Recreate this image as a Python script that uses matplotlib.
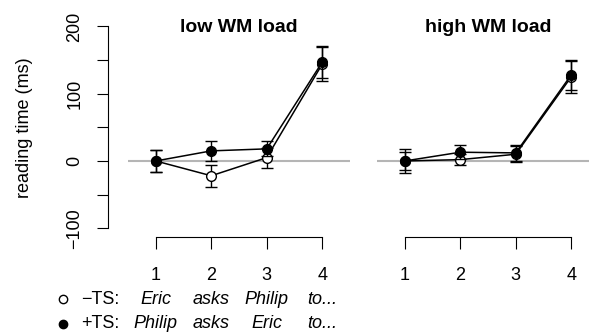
import matplotlib
matplotlib.use('Agg')
import matplotlib.pyplot as plt
import matplotlib.transforms as mtransforms
from matplotlib.lines import Line2D

plt.rcParams['font.family'] = ['Liberation Sans', 'DejaVu Sans']

positions = [1, 2, 3, 4]
panels = ['low WM load', 'high WM load']

# mean reading time (ms) and error bar half-widths
low_minus = [0, -22, 5, 144]
low_minus_err = [17, 16, 15, 25]
low_plus = [0, 15, 18, 147]
low_plus_err = [17, 15, 11, 24]

high_minus = [0, 2, 10, 125]
high_minus_err = [18, 8, 12, 24]
high_plus = [0, 13, 12, 128]
high_plus_err = [14, 10, 12, 22]

minus_words = ['Eric', 'asks', 'Philip', 'to...']
plus_words = ['Philip', 'asks', 'Eric', 'to...']

W, H = 589, 333
fig = plt.figure(figsize=(W / 100, H / 100), dpi=100)
ax1 = fig.add_axes([128 / W, 1 - 237 / H, 222 / W, 218 / H])
ax2 = fig.add_axes([377 / W, 1 - 237 / H, 222 / W, 218 / H])

data = [(low_minus, low_minus_err, low_plus, low_plus_err),
        (high_minus, high_minus_err, high_plus, high_plus_err)]

for ax, title, (m, me, p, pe) in zip([ax1, ax2], panels, data):
    ax.axhline(0, color='#b5b5b5', lw=1.5, zorder=0)
    ax.errorbar(positions, m, yerr=me, fmt='-o', color='black', mfc='white',
                mec='black', ms=7, lw=1.1, elinewidth=1.0, capsize=4.5,
                capthick=1.0, mew=1.0, zorder=2)
    ax.errorbar(positions, p, yerr=pe, fmt='-o', color='black', mfc='black',
                mec='black', ms=7, lw=1.1, elinewidth=1.0, capsize=4.5,
                capthick=1.0, mew=1.0, zorder=3)
    ax.set_xlim(0.5, 4.5)
    ax.set_ylim(-113, 211)
    ax.text(0.5, 1 - 8 / 218, title, transform=ax.transAxes, ha='center',
            va='center', fontsize=14, fontweight='bold')
    for s in ['top', 'right']:
        ax.spines[s].set_visible(False)
    ax.spines['bottom'].set_bounds(1, 4)
    ax.spines['bottom'].set_linewidth(0.8)
    ax.set_xticks(positions)
    ax.set_xticklabels([str(v) for v in positions])
    ax.tick_params(axis='x', length=8.6, width=0.8, pad=13, labelsize=13)
    ax.patch.set_visible(False)

ax1.spines['left'].set_position(('outward', 14.4))
ax1.spines['left'].set_bounds(-100, 200)
ax1.spines['left'].set_linewidth(0.8)
ax1.set_yticks([-100, 0, 100, 200])
ax1.set_yticklabels(['\u2212100', '0', '100', '200'], rotation=90, va='center')
ax1.set_yticks([-50, 50, 150], minor=True)
ax1.tick_params(axis='y', which='both', length=7.9, width=0.8, pad=10, labelsize=13)
ax1.set_ylabel('reading time (ms)', fontsize=13)
ax1.yaxis.set_label_coords(-0.43, 0.5)

ax2.spines['left'].set_visible(False)
ax2.set_yticks([])

# legend rows below the left panel
trans = mtransforms.blended_transform_factory(ax1.transData, fig.transFigure)
rows = [(1 - 299 / H, '\u2212TS:', minus_words, 'white'),
        (1 - 324 / H, '+TS:', plus_words, 'black')]
for y, lab, words, fc in rows:
    fig.add_artist(Line2D([63 / W], [y], marker='o', ms=6, mfc=fc, mec='black',
                          mew=1.0, transform=fig.transFigure))
    fig.text(81 / W, y, lab, ha='left', va='center', fontsize=13)
    for xpos, w in zip(positions, words):
        ax1.text(xpos, y, w, transform=trans, ha='center', va='center',
                 fontsize=13, style='italic')

fig.savefig('out.png', dpi=100)
